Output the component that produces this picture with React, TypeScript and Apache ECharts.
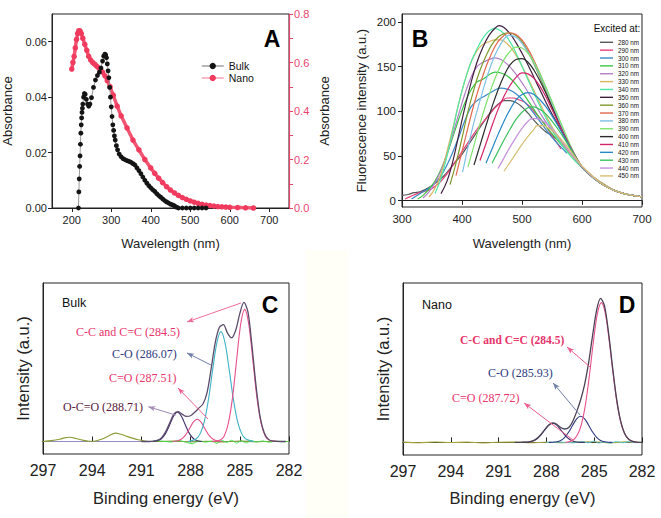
import React, { useEffect, useRef } from 'react';
import * as echarts from 'echarts';

// ---------- Panel A : UV-vis absorbance ----------
const bulkWl = [217, 218, 219, 220, 221, 222, 223, 224, 225, 226, 227, 228, 230, 232, 234, 237, 240, 243, 246, 250, 255, 260, 265, 270, 274, 278, 281, 284, 286, 288, 290, 292, 294, 296, 298, 300, 302, 304, 306, 308, 310, 313, 316, 320, 325, 330, 335, 340, 345, 350, 355, 360, 365, 370, 375, 380, 385, 390, 395, 400, 405, 410, 415, 420, 425, 430, 435, 440, 445, 450, 455, 460, 465, 470, 480, 490, 500, 510, 520, 530, 540];
const bulkAbs = [0, 0.0058, 0.0105, 0.015, 0.0188, 0.023, 0.027, 0.03, 0.0325, 0.0345, 0.036, 0.0375, 0.04, 0.0413, 0.041, 0.0392, 0.0375, 0.0367, 0.0375, 0.0398, 0.0435, 0.0462, 0.0478, 0.049, 0.0505, 0.053, 0.0548, 0.0555, 0.0552, 0.0542, 0.052, 0.0495, 0.047, 0.0435, 0.04, 0.0365, 0.033, 0.03, 0.028, 0.026, 0.0245, 0.0225, 0.021, 0.0195, 0.0185, 0.0178, 0.0174, 0.0171, 0.0168, 0.0165, 0.016, 0.0155, 0.0145, 0.0135, 0.0124, 0.0112, 0.01, 0.009, 0.0081, 0.0073, 0.0066, 0.006, 0.0052, 0.0045, 0.0039, 0.0033, 0.0027, 0.0022, 0.0018, 0.0014, 0.0011, 0.0008, 0.0003, 0, 0, 0, 0, 0, 0, 0, 0];
const nanoWl = [200, 203, 206, 209, 212, 215, 218, 221, 224, 228, 233, 238, 243, 248, 253, 258, 263, 268, 273, 278, 284, 290, 297, 305, 315, 325, 340, 355, 370, 385, 400, 410, 420, 430, 440, 450, 460, 470, 480, 490, 500, 510, 520, 530, 540, 550, 560, 570, 580, 590, 600, 620, 640, 660];
const nanoAbs = [0.573, 0.6, 0.625, 0.66, 0.695, 0.72, 0.731, 0.73, 0.72, 0.7, 0.675, 0.65, 0.625, 0.61, 0.6, 0.593, 0.585, 0.578, 0.57, 0.56, 0.545, 0.525, 0.5, 0.465, 0.42, 0.38, 0.33, 0.28, 0.24, 0.2, 0.165, 0.143, 0.123, 0.105, 0.088, 0.074, 0.062, 0.052, 0.043, 0.036, 0.029, 0.024, 0.019, 0.015, 0.012, 0.01, 0.008, 0.006, 0.005, 0.004, 0.003, 0.002, 0.001, 0];
const aXTicks = [200, 300, 400, 500, 600, 700];
const aLeftTicks = [0, 0.02, 0.04, 0.06];
const aRightLabels = [0, 0.2, 0.4, 0.6, 0.8];
const aRightTicks = [0, 0.1, 0.2, 0.3, 0.4, 0.5, 0.6, 0.7, 0.8];

// ---------- Panel B : fluorescence, excitation-dependent ----------
const ex280Wl = [300, 310, 320, 330, 340, 350, 360, 370, 380, 390, 400, 410, 420, 430, 440, 450, 460, 470, 480, 490, 500, 510, 520, 530, 540, 550, 556];
const ex280I = [6, 7, 9, 10, 13, 17, 22, 28, 36, 44, 52, 62, 72, 82, 92, 101, 108, 112, 112, 110, 105, 98, 90, 83, 77, 73, 70];
const ex290Wl = [305, 315, 325, 335, 345, 355, 365, 375, 385, 395, 405, 415, 425, 435, 445, 455, 465, 475, 485, 495, 505, 515, 525, 535, 545, 555, 565];
const ex290I = [2, 5, 8, 10, 12, 16, 22, 30, 40, 50, 60, 70, 80, 88, 96, 104, 110, 115, 115, 113, 110, 104, 96, 88, 78, 68, 58];
const ex300Wl = [316, 325, 335, 345, 355, 365, 375, 385, 395, 405, 415, 425, 435, 445, 455, 465, 475, 485, 495, 505, 515, 525, 535, 545, 555, 565, 575];
const ex300I = [2, 6, 10, 14, 20, 28, 40, 55, 72, 90, 105, 112, 116, 120, 124, 126, 125, 122, 117, 110, 102, 93, 84, 75, 67, 60, 53];
const ex310Wl = [326, 335, 345, 355, 365, 375, 385, 395, 405, 415, 425, 435, 445, 455, 465, 475, 485, 495, 505, 515, 525, 535, 545, 555, 565, 575, 585, 600, 620, 640, 660, 680, 700];
const ex310I = [2, 6, 13, 22, 35, 52, 72, 92, 110, 124, 133, 136, 141, 144, 143, 140, 134, 126, 117, 107, 97, 88, 79, 71, 63, 56, 49, 38, 26, 17, 10, 6.5, 4.5];
const ex320Wl = [335, 345, 355, 365, 375, 385, 395, 405, 415, 425, 435, 445, 455, 465, 475, 485, 495, 505, 515, 525, 535, 545, 555, 565, 575, 585, 600, 620, 640, 660, 680, 700];
const ex320I = [3, 10, 20, 34, 52, 75, 98, 120, 138, 150, 155, 158, 160, 158, 153, 146, 137, 127, 116, 104, 93, 83, 74, 65, 57, 49, 38, 26, 17, 10, 6.5, 4.5];
const ex330Wl = [345, 355, 365, 375, 385, 395, 405, 415, 425, 435, 445, 455, 465, 475, 485, 495, 505, 515, 525, 535, 545, 555, 565, 575, 585, 600, 620, 640, 660, 680, 700];
const ex330I = [4, 14, 30, 55, 82, 110, 135, 155, 168, 175, 178, 180, 180, 176, 168, 157, 144, 130, 116, 102, 89, 77, 67, 58, 49, 38, 26, 17, 10, 6.5, 4.5];
const ex340Wl = [355, 365, 375, 385, 395, 405, 415, 425, 435, 445, 455, 465, 475, 485, 495, 505, 515, 525, 535, 545, 555, 565, 575, 585, 600, 620, 640, 660, 680, 700];
const ex340I = [8, 25, 50, 80, 110, 135, 155, 170, 182, 190, 193, 190, 183, 172, 158, 143, 128, 113, 99, 86, 74, 64, 55, 47, 37, 25, 16, 10, 6.5, 4.5];
const ex350Wl = [365, 375, 385, 395, 405, 415, 425, 435, 445, 455, 462, 470, 480, 490, 500, 510, 520, 530, 540, 550, 560, 570, 580, 590, 600, 620, 640, 660, 680, 700];
const ex350I = [8, 22, 45, 75, 105, 132, 155, 172, 185, 193, 196, 194, 187, 177, 165, 152, 138, 124, 110, 97, 85, 73, 61, 49, 38, 25, 16, 10, 6.5, 4.5];
const ex360Wl = [380, 390, 400, 410, 420, 430, 440, 450, 460, 470, 478, 490, 500, 510, 520, 530, 540, 550, 560, 570, 580, 590, 600, 620, 640, 660, 680, 700];
const ex360I = [18, 42, 70, 100, 125, 146, 162, 175, 183, 187, 188, 185, 178, 167, 153, 138, 122, 105, 88, 72, 59, 47, 37, 25, 16, 10, 6.5, 4.5];
const ex370Wl = [390, 400, 410, 420, 430, 440, 450, 460, 470, 480, 490, 500, 510, 520, 530, 540, 550, 560, 570, 580, 590, 600, 620, 640, 660, 680, 700];
const ex370I = [28, 55, 82, 108, 130, 150, 166, 178, 185, 188, 186, 180, 170, 157, 142, 126, 109, 91, 75, 60, 48, 38, 25, 16, 10, 6.5, 4.5];
const ex380Wl = [401, 410, 420, 430, 440, 450, 460, 470, 478, 490, 500, 510, 520, 530, 540, 550, 560, 570, 580, 590, 600, 620, 640, 660, 680, 700];
const ex380I = [32, 60, 88, 112, 135, 155, 170, 181, 185, 183, 176, 166, 154, 140, 125, 109, 92, 76, 61, 48, 38, 25, 16, 10, 6.5, 4.5];
const ex390Wl = [410, 420, 430, 440, 450, 460, 470, 480, 490, 500, 510, 520, 530, 540, 550, 560, 570, 580, 590, 600, 620, 640, 660, 680, 700];
const ex390I = [38, 62, 86, 108, 128, 145, 158, 167, 172, 171, 165, 155, 142, 127, 111, 95, 79, 63, 49, 38, 25, 16, 10, 6.5, 4.5];
const ex400Wl = [420, 430, 440, 450, 460, 470, 480, 490, 500, 510, 520, 530, 540, 550, 560, 570, 580, 590, 600, 620, 640, 660, 680, 700];
const ex400I = [40, 62, 84, 105, 124, 140, 152, 158, 159, 155, 146, 134, 120, 105, 89, 74, 60, 48, 38, 25, 16, 10, 6.5, 4.5];
const ex410Wl = [430, 440, 450, 460, 470, 480, 490, 500, 510, 520, 530, 540, 550, 560, 570, 580, 590, 600, 620, 640, 660, 680, 700];
const ex410I = [45, 64, 84, 102, 117, 129, 138, 143, 142, 137, 128, 116, 102, 88, 74, 61, 49, 38, 25, 16, 10, 6.5, 4.5];
const ex420Wl = [440, 450, 460, 470, 480, 490, 500, 510, 520, 530, 540, 550, 560, 570, 580, 590, 600, 620, 640, 660, 680, 700];
const ex420I = [42, 58, 74, 89, 102, 113, 119, 121, 119, 113, 105, 95, 84, 72, 60, 48, 38, 25, 16, 10, 6.5, 4.5];
const ex430Wl = [450, 460, 470, 480, 490, 500, 510, 520, 530, 540, 550, 560, 570, 580, 590, 600, 620, 640, 660, 680, 700];
const ex430I = [42, 55, 68, 80, 91, 99, 104, 105, 102, 97, 89, 80, 70, 59, 48, 38, 25, 16, 10, 6.5, 4.5];
const ex440Wl = [460, 470, 480, 490, 500, 510, 517, 525, 535, 545, 555, 565, 575, 585, 600, 620, 640, 660, 680, 700];
const ex440I = [36, 48, 60, 71, 81, 89, 92, 92, 89, 84, 77, 68, 59, 50, 38, 25, 16, 10, 6.5, 4.5];
const ex450Wl = [470, 480, 490, 500, 510, 520, 525, 535, 545, 555, 565, 575, 585, 600, 620, 640, 660, 680, 700];
const ex450I = [33, 43, 53, 63, 72, 80, 84, 84, 81, 76, 69, 61, 52, 39, 26, 16, 10, 6.5, 4.5];
const bNames = ['280 nm', '290 nm', '300 nm', '310 nm', '320 nm', '330 nm', '340 nm', '350 nm', '360 nm', '370 nm', '380 nm', '390 nm', '400 nm', '410 nm', '420 nm', '430 nm', '440 nm', '450 nm'];
const bColors = ['#55595a', '#e8407a', '#3a8ac8', '#3cc646', '#b27ec6', '#d6b460', '#4ee8a4', '#40203e', '#7f9a2c', '#e2684e', '#80c0e4', '#7ee26c', '#2c2c2c', '#d4246a', '#2888c8', '#3cc25e', '#c490dc', '#d6c070'];
const bWls = [ex280Wl, ex290Wl, ex300Wl, ex310Wl, ex320Wl, ex330Wl, ex340Wl, ex350Wl, ex360Wl, ex370Wl, ex380Wl, ex390Wl, ex400Wl, ex410Wl, ex420Wl, ex430Wl, ex440Wl, ex450Wl];
const bInts = [ex280I, ex290I, ex300I, ex310I, ex320I, ex330I, ex340I, ex350I, ex360I, ex370I, ex380I, ex390I, ex400I, ex410I, ex420I, ex430I, ex440I, ex450I];
const bYTicks = [0, 50, 100, 150, 200];

// ---------- Panel C : XPS C1s, bulk ----------
const cCCx = [286.7, 286.2, 285.95, 285.7, 285.45, 285.2, 284.95, 284.7, 284.45, 284.2, 283.95, 283.7, 283.45, 283.2, 282.7];
const cCCy = [0, 1, 4, 13, 31, 58, 84, 95, 84, 58, 31, 13, 4, 1, 0];
const cCOx = [288.15, 287.65, 287.4, 287.15, 286.9, 286.65, 286.4, 286.15, 285.9, 285.65, 285.4, 285.15, 284.9, 284.65, 284.15];
const cCOy = [0, 2, 6, 15, 31, 52, 71, 79, 71, 52, 31, 15, 6, 2, 0];
const cCdOx = [289.1, 288.85, 288.6, 288.35, 288.1, 287.85, 287.6, 287.35, 287.1, 286.85, 286.6, 286.35, 286.1];
const cCdOy = [0, 0.3, 1.4, 4, 8.6, 13.7, 16, 13.7, 8.6, 4, 1.4, 0.3, 0];
const cOCOx = [290.3, 290.05, 289.8, 289.55, 289.3, 289.05, 288.8, 288.55, 288.3, 288.05, 287.8, 287.55, 287.3];
const cOCOy = [0, 0.4, 1.8, 5.3, 11.3, 18, 21, 18, 11.3, 5.3, 1.8, 0.4, 0];
const cEnvX = [291, 290.5, 290.25, 290, 289.75, 289.5, 289.25, 289, 288.75, 288.5, 288.25, 288, 287.75, 287.5, 287.25, 287, 286.75, 286.5, 286.25, 286, 285.75, 285.5, 285.25, 285, 284.75, 284.5, 284.25, 284, 283.75, 283.5, 283.25, 283, 282.5, 282.2];
const cEnvY = [0, 0, 0.3, 1, 3, 7.5, 14, 20, 21.5, 19.5, 18, 18.5, 21, 24, 27, 35, 52, 71, 82, 84, 78, 74.5, 80, 92, 100, 93, 68, 39, 17, 6, 1.5, 0.3, 0, 0];
const cOliveX = [297, 296.5, 296, 295.7, 295.35, 295, 294.6, 294.2, 293.8, 293.4, 293, 292.6, 292.3, 292, 291.6, 291.2, 290.8, 290.4, 290, 289, 288, 287, 286, 285, 284, 283, 282];
const cOliveY = [0, 0.6, 1.6, 2.6, 3, 2.2, 1, 0.2, 0.4, 1.8, 4, 6, 5.4, 4.2, 2.6, 1.2, 0.4, 0, 0, 0.3, -0.3, 0.2, -0.4, 0.3, -0.2, 0.2, 0];
const cResX = [290.5, 289.8, 289.2, 288.7, 288.2, 287.9, 287.5, 287.1, 286.7, 286.4, 286.1, 285.8, 285.5, 285.2, 284.9, 284.6, 284.3, 284, 283.6, 283.2, 282.8, 282.4, 282];
const cResY = [0, 0.3, -0.4, 0.6, -0.8, -1.6, 0.4, -0.5, 0.3, -1.4, 0.8, -0.6, 0.9, -1.2, 0.5, -1.1, 0.7, -0.4, 0.4, -0.6, 0.3, -0.2, 0];

// ---------- Panel D : XPS C1s, nano ----------
const dCCx = [286.8, 286.55, 286.3, 286.05, 285.8, 285.55, 285.3, 285.05, 284.8, 284.55, 284.3, 284.05, 283.8, 283.55, 283.3, 283.05, 282.8, 282.55, 282.3];
const dCCy = [0, 0.6, 1.9, 5.4, 13, 27, 48, 72, 92, 100, 92, 72, 48, 27, 13, 5.4, 1.9, 0.6, 0];
const dCOx = [287.85, 287.6, 287.35, 287.1, 286.85, 286.6, 286.35, 286.1, 285.85, 285.6, 285.35, 285.1, 284.85, 284.6, 284.35, 284.1, 283.85];
const dCOy = [0, 0.1, 0.45, 1.4, 3.6, 7.4, 12.3, 16.9, 18.7, 16.9, 12.3, 7.4, 3.6, 1.4, 0.45, 0.1, 0];
const dCdOx = [289.6, 289.35, 289.1, 288.85, 288.6, 288.35, 288.1, 287.85, 287.6, 287.35, 287.1, 286.85, 286.6, 286.35, 286.1, 285.85, 285.6];
const dCdOy = [0, 0.08, 0.33, 1, 2.6, 5.4, 9, 12.4, 13.7, 12.4, 9, 5.4, 2.6, 1, 0.33, 0.08, 0];
const dEnvX = [290, 289.5, 289.1, 288.85, 288.6, 288.35, 288.1, 287.85, 287.6, 287.35, 287.1, 286.85, 286.6, 286.35, 286.1, 285.85, 285.6, 285.35, 285.1, 284.85, 284.6, 284.35, 284.1, 283.85, 283.6, 283.35, 283.1, 282.85, 282.6, 282.35, 282];
const dEnvY = [0, 0.1, 0.4, 1.1, 2.7, 5.5, 9.1, 12.5, 14, 13, 10.7, 9.6, 10.6, 15, 22, 30.5, 41.5, 57, 76.5, 94.5, 103, 97.5, 78.5, 54, 31.5, 15.7, 6.6, 2.4, 0.7, 0.2, 0];
const dNoiseX = [297, 296, 295, 294, 293, 292, 291, 290, 289, 288, 287, 286, 285, 284, 283, 282];
const dNoiseY = [0.2, -0.2, 0.3, -0.1, 0.2, -0.3, 0.1, 0.2, -0.2, 0.1, -0.2, 0.3, 0.5, -0.3, 0.4, 0];
const dResX = [288, 287, 286.3, 285.8, 285.4, 285, 284.7, 284.4, 284, 283.6, 283.2, 282.8, 282.4, 282];
const dResY = [0, 0.2, -0.4, 0.6, -0.3, 0.9, -0.6, 0.4, -0.5, 0.7, -0.3, 0.6, -0.2, 0];

const zip = (xs: number[], ys: number[]) => xs.map((x, i) => [x, ys[i]]);

const SANS = 'Liberation Sans, Arial, sans-serif';
const SERIF = 'Liberation Serif, Times New Roman, serif';
const PINK_AX = '#e8456e';
const INK = '#222';

function buildOption(): any {
  const axisBase = {
    splitLine: { show: false },
    axisLine: { show: true, lineStyle: { color: INK, width: 1 } },
    axisLabel: { color: INK, fontFamily: SANS },
    nameTextStyle: { color: INK, fontFamily: SANS },
  };

  const xAxis: any[] = [
    {
      ...axisBase, gridIndex: 0, type: 'value', min: 150, max: 750,
      axisTick: { show: true, length: 4, customValues: aXTicks, lineStyle: { color: INK } },
      axisLabel: { color: INK, fontFamily: SANS, fontSize: 11, margin: 6, customValues: aXTicks },
      name: 'Wavelength (nm)', nameLocation: 'middle', nameGap: 29,
      nameTextStyle: { color: INK, fontFamily: SANS, fontSize: 13 },
    },
    {
      ...axisBase, gridIndex: 1, type: 'value', min: 300, max: 700, interval: 100,
      axisTick: { show: true, length: 4, lineStyle: { color: INK } },
      axisLabel: { color: INK, fontFamily: SANS, fontSize: 11.5, margin: 6 },
      name: 'Wavelength (nm)', nameLocation: 'middle', nameGap: 30,
      nameTextStyle: { color: INK, fontFamily: SANS, fontSize: 13 },
    },
    {
      ...axisBase, gridIndex: 2, type: 'value', min: 282, max: 297, interval: 3, inverse: true,
      axisTick: { show: true, inside: true, length: 5, lineStyle: { color: INK } },
      axisLabel: { color: INK, fontFamily: SANS, fontSize: 16, margin: 8 },
      name: 'Binding energy (eV)', nameLocation: 'middle', nameGap: 35,
      nameTextStyle: { color: INK, fontFamily: SANS, fontSize: 16.5 },
    },
    {
      ...axisBase, gridIndex: 3, type: 'value', min: 282, max: 297, interval: 3, inverse: true,
      axisTick: { show: true, inside: true, length: 5, lineStyle: { color: INK } },
      axisLabel: { color: INK, fontFamily: SANS, fontSize: 16, margin: 8 },
      name: 'Binding energy (eV)', nameLocation: 'middle', nameGap: 34,
      nameTextStyle: { color: INK, fontFamily: SANS, fontSize: 16.5 },
    },
  ];

  const yAxis: any[] = [
    {
      ...axisBase, gridIndex: 0, type: 'value', min: 0, max: 0.07,
      axisTick: { show: true, length: 4, customValues: aLeftTicks, lineStyle: { color: INK } },
      axisLabel: { color: INK, fontFamily: SANS, fontSize: 11, margin: 5, customValues: aLeftTicks, formatter: (v: number) => v.toFixed(2) },
      name: 'Absorbance', nameLocation: 'middle', nameGap: 38,
      nameTextStyle: { color: INK, fontFamily: SANS, fontSize: 13 },
    },
    {
      gridIndex: 0, type: 'value', min: 0, max: 0.8, position: 'right',
      splitLine: { show: false },
      axisLine: { show: true, lineStyle: { color: PINK_AX, width: 1.2 } },
      axisTick: { show: true, length: 4, customValues: aRightTicks, lineStyle: { color: PINK_AX } },
      axisLabel: { color: PINK_AX, fontFamily: SANS, fontSize: 11, margin: 5, customValues: aRightLabels, formatter: (v: number) => v.toFixed(1) },
      name: 'Absorbance', nameLocation: 'middle', nameGap: 29,
      nameTextStyle: { color: INK, fontFamily: SANS, fontSize: 13 },
    },
    {
      ...axisBase, gridIndex: 1, type: 'value', min: -7, max: 209,
      axisTick: { show: true, length: 4, customValues: bYTicks, lineStyle: { color: INK } },
      axisLabel: { color: INK, fontFamily: SANS, fontSize: 11.5, margin: 6, customValues: bYTicks },
      name: 'Fluorescence intensity (a.u.)', nameLocation: 'middle', nameGap: 34,
      nameTextStyle: { color: INK, fontFamily: SANS, fontSize: 13 },
    },
    {
      ...axisBase, gridIndex: 2, type: 'value', min: -9, max: 114,
      axisTick: { show: false }, axisLabel: { show: false },
      name: 'Intensity (a.u.)', nameLocation: 'middle', nameGap: 12,
      nameTextStyle: { color: INK, fontFamily: SANS, fontSize: 16.5 },
    },
    {
      ...axisBase, gridIndex: 3, type: 'value', min: -9, max: 114,
      axisTick: { show: false }, axisLabel: { show: false },
      name: 'Intensity (a.u.)', nameLocation: 'middle', nameGap: 12,
      nameTextStyle: { color: INK, fontFamily: SANS, fontSize: 16.5 },
    },
  ];

  const line = (name: string, xi: number, yi: number, data: number[][], color: string, width: number, extra: any = {}) => ({
    name, type: 'line', xAxisIndex: xi, yAxisIndex: yi, data, smooth: 0.3,
    symbol: 'none', showSymbol: false, lineStyle: { color, width }, itemStyle: { color }, silent: true,
    ...extra,
  });

  const series: any[] = [];

  // Panel A
  series.push({
    name: 'Nano', type: 'line', xAxisIndex: 0, yAxisIndex: 1, data: zip(nanoWl, nanoAbs),
    symbol: 'circle', symbolSize: 5.5, showSymbol: true,
    lineStyle: { color: '#f25572', width: 3.5 }, itemStyle: { color: '#f03a5e' }, z: 2, silent: true,
  });
  series.push({
    name: 'Bulk', type: 'line', xAxisIndex: 0, yAxisIndex: 0, data: zip(bulkWl, bulkAbs),
    symbol: 'circle', symbolSize: 4.8, showSymbol: true,
    lineStyle: { color: '#9a9a9a', width: 1 }, itemStyle: { color: '#141414' }, z: 3, silent: true,
  });

  // Panel B
  bNames.forEach((n, i) => {
    series.push(line(n, 1, 2, zip(bWls[i], bInts[i]), bColors[i], 1.2, { smooth: 0.4 }));
  });

  // Panel C
  series.push(line('c-base', 2, 3, [[297, 0], [282, 0]], '#9a8cc8', 1, {
    smooth: false,
    markLine: {
      silent: true, animation: false, symbol: ['none', 'arrow'], symbolSize: [4, 7],
      label: { show: false },
      data: [
        [{ coord: [284.93, 99.6], lineStyle: { color: '#ef6d9a', width: 1, type: 'solid' } }, { coord: [288.22, 86], lineStyle: { color: '#ef6d9a', width: 1, type: 'solid' } }],
        [{ coord: [286.76, 55], lineStyle: { color: '#6e7ea6', width: 1, type: 'solid' } }, { coord: [288.22, 63.7], lineStyle: { color: '#6e7ea6', width: 1, type: 'solid' } }],
        [{ coord: [286.94, 16.2], lineStyle: { color: '#ef5d8e', width: 1, type: 'solid' } }, { coord: [288.77, 38.5], lineStyle: { color: '#ef5d8e', width: 1, type: 'solid' } }],
        [{ coord: [288.91, 19], lineStyle: { color: '#a28ab4', width: 1, type: 'solid' } }, { coord: [290.58, 25], lineStyle: { color: '#6a2a4e', width: 1, type: 'solid' } }],
      ],
    },
  }));
  series.push(line('c-olive', 2, 3, zip(cOliveX, cOliveY), '#8c9c34', 1.1));
  series.push(line('c-res', 2, 3, zip(cResX, cResY), '#3ee048', 0.9));
  series.push(line('c-oco', 2, 3, zip(cOCOx, cOCOy), '#3e2e6a', 1.1));
  series.push(line('c-cdo', 2, 3, zip(cCdOx, cCdOy), '#e2508a', 1.1));
  series.push(line('c-co', 2, 3, zip(cCOx, cCOy), '#3eb2c6', 1.1));
  series.push(line('c-cc', 2, 3, zip(cCCx, cCCy), '#e8508c', 1.1));
  series.push(line('c-env', 2, 3, zip(cEnvX, cEnvY), '#5c4c6c', 1.3));

  // Panel D
  series.push(line('d-base', 3, 4, zip(dNoiseX, dNoiseY), '#a4a43c', 1.1, {
    markLine: {
      silent: true, animation: false, symbol: ['none', 'arrow'], symbolSize: [4, 7],
      label: { show: false },
      data: [
        [{ coord: [285.26, 53.9], lineStyle: { color: '#ef5d8e', width: 1, type: 'solid' } }, { coord: [286.7, 68.2], lineStyle: { color: '#ef5d8e', width: 1, type: 'solid' } }],
        [{ coord: [285.89, 19.6], lineStyle: { color: '#6e7ea6', width: 1, type: 'solid' } }, { coord: [287.58, 42.5], lineStyle: { color: '#6e7ea6', width: 1, type: 'solid' } }],
        [{ coord: [286.33, 1.7], lineStyle: { color: '#ef5d8e', width: 1, type: 'solid' } }, { coord: [289.4, 28.2], lineStyle: { color: '#ef5d8e', width: 1, type: 'solid' } }],
      ],
    },
  }));
  series.push(line('d-res', 3, 4, zip(dResX, dResY), '#5ed0e4', 0.9));
  series.push(line('d-cdo', 3, 4, zip(dCdOx, dCdOy), '#3e306e', 1.1));
  series.push(line('d-co', 3, 4, zip(dCOx, dCOy), '#2e3a80', 1.1));
  series.push(line('d-cc', 3, 4, zip(dCCx, dCCy), '#e8508c', 1.1));
  series.push(line('d-env', 3, 4, zip(dEnvX, dEnvY), '#4c4256', 1.3));

  const txt = (text: string, x: number, y: number, fill: string, fontSize: number, fontFamily = SANS, fontWeight: any = 'normal', align = 'left') => ({
    type: 'text', x, y, silent: true, z: 100,
    style: { text, fill, fontSize, fontFamily, fontWeight, textAlign: align, textVerticalAlign: 'middle', align, verticalAlign: 'middle' },
  });

  const graphic: any[] = [
    { type: 'rect', shape: { x: 306, y: 250, width: 42, height: 268 }, style: { fill: '#fffef7' }, z: -10, silent: true },
    txt('A', 272, 39, '#000', 23, SANS, 'bold', 'center'),
    txt('B', 420, 39, '#000', 23, SANS, 'bold', 'center'),
    txt('C', 270, 305, '#000', 23, SANS, 'bold', 'center'),
    txt('D', 627, 305, '#000', 23, SANS, 'bold', 'center'),
    txt('Excited at:', 617, 28, '#111', 10, SANS, 'normal', 'center'),
    txt('Bulk', 62, 303, '#111', 12.5),
    txt('Nano', 422, 305, '#111', 12.5),
    txt('C-C and C=C (284.5)', 76, 332, '#e8336b', 12, SERIF),
    txt('C-O (286.07)', 112, 354, '#2e3a80', 12, SERIF),
    txt('C=O (287.51)', 109, 378, '#e8336b', 12, SERIF),
    txt('O-C=O (288.71)', 63, 407, '#5a1a40', 12, SERIF),
    txt('C-C and C=C (284.5)', 460, 340, '#e8336b', 11.5, SERIF, 'bold'),
    txt('C-O (285.93)', 488, 373, '#2e3a80', 12, SERIF),
    txt('C=O (287.72)', 452, 398, '#e8336b', 12, SERIF),
  ];

  return {
    animation: false,
    backgroundColor: '#ffffff',
    textStyle: { fontFamily: SANS },
    grid: [
      { left: 49, top: 14, width: 240, height: 194, show: true, borderColor: INK, borderWidth: 1, backgroundColor: 'transparent' },
      { left: 402, top: 14, width: 240, height: 193, show: true, borderColor: INK, borderWidth: 1, backgroundColor: 'transparent' },
      { left: 43, top: 283, width: 246, height: 171, show: true, borderColor: INK, borderWidth: 1, backgroundColor: 'transparent' },
      { left: 403, top: 283, width: 239, height: 172, show: true, borderColor: INK, borderWidth: 1, backgroundColor: 'transparent' },
    ],
    legend: [
      {
        left: 196, top: 55, orient: 'vertical', itemWidth: 22, itemHeight: 8, itemGap: 0,
        selectedMode: false,
        textStyle: { fontSize: 10.5, color: '#111', fontFamily: SANS, lineHeight: 12 },
        data: [
          { name: 'Bulk', itemStyle: { color: '#141414' }, lineStyle: { color: '#a0a0a0', width: 1.5 } },
          { name: 'Nano', itemStyle: { color: '#f03a5e' }, lineStyle: { color: '#f6a0b4', width: 1.5 } },
        ],
      },
      {
        left: 595, top: 33.8, orient: 'vertical', itemWidth: 13, itemHeight: 1.4, itemGap: 0.86,
        selectedMode: false, icon: 'rect',
        textStyle: { fontSize: 6.3, color: '#111', fontFamily: SANS, lineHeight: 7 },
        data: bNames,
      },
    ],
    xAxis, yAxis, series, graphic,
  };
}

export default function App() {
  const ref = useRef<HTMLDivElement>(null);
  useEffect(() => {
    if (!ref.current) return;
    const chart = echarts.init(ref.current, null, { renderer: 'svg' });
    chart.setOption(buildOption());
    return () => chart.dispose();
  }, []);
  return (
    <div
      ref={ref}
      style={{ position: 'absolute', left: 0, top: 0, width: 661, height: 518, background: '#fff' }}
    />
  );
}
